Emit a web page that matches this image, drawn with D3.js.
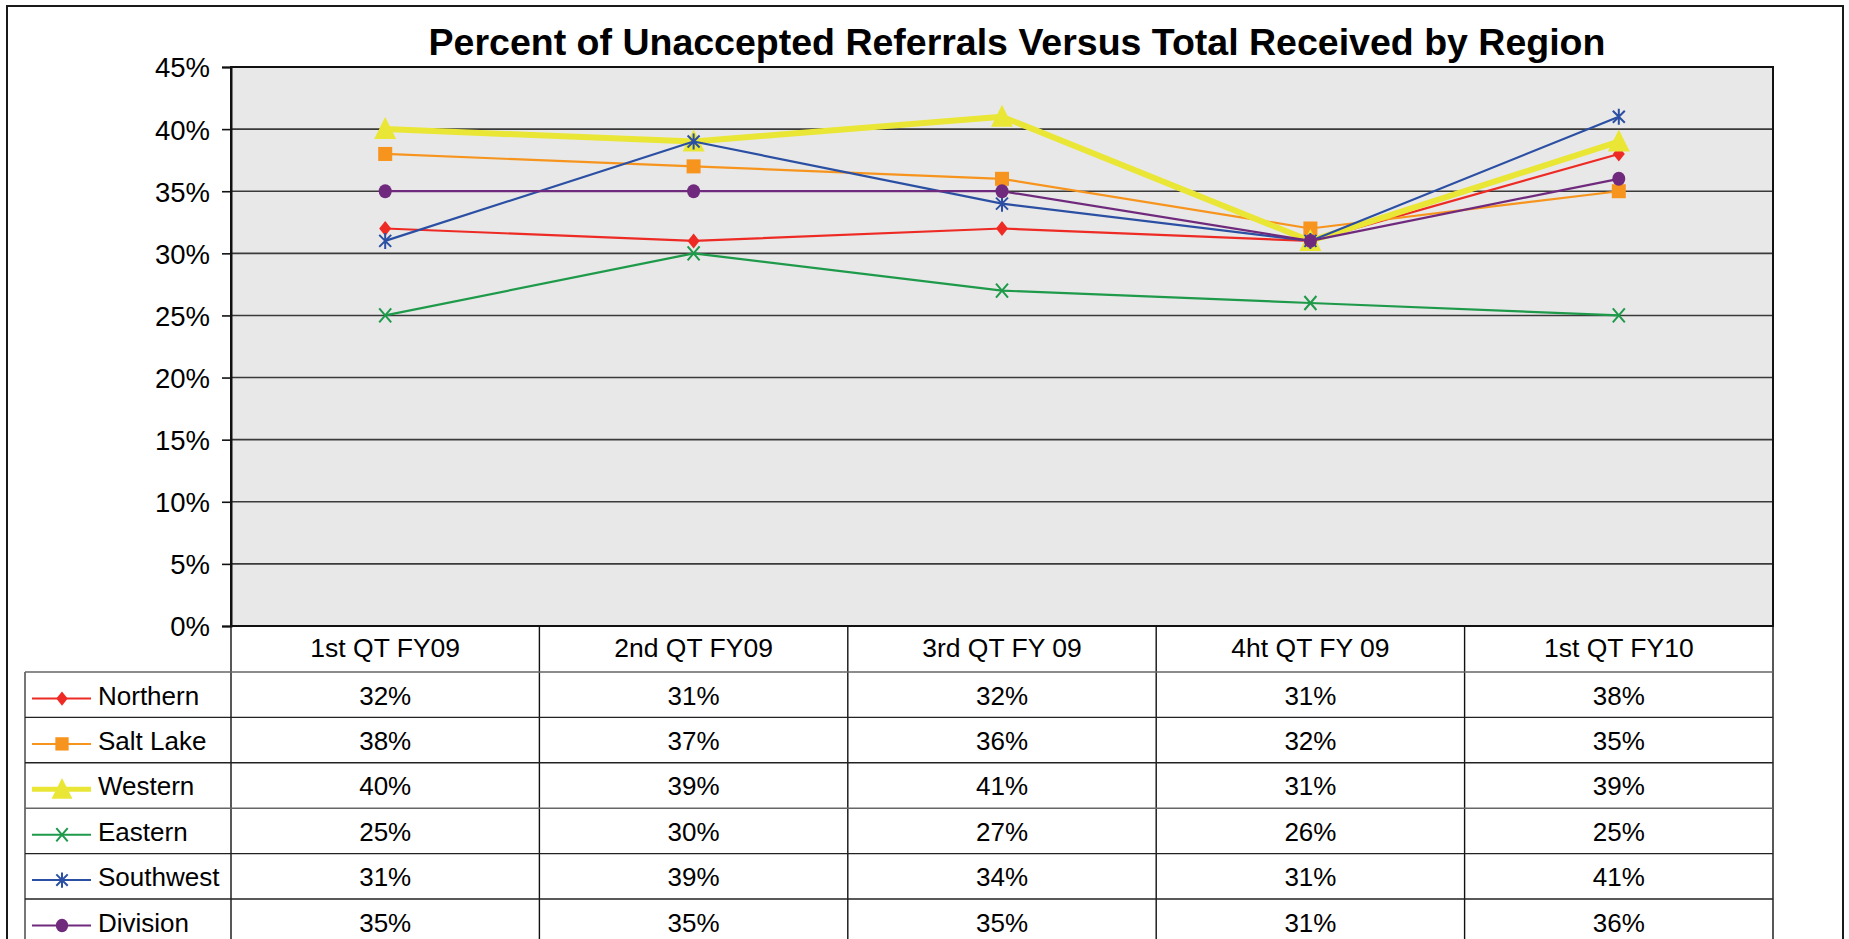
<!DOCTYPE html>
<html>
<head>
<meta charset="utf-8">
<script src="https://cdn.jsdelivr.net/npm/d3@7"></script>
<style>
  html, body { margin: 0; padding: 0; background: #fff; }
  svg { display: block; font-family: "Liberation Sans", Arial, sans-serif; }
</style>
</head>
<body>
<svg id="chart" width="1849" height="939"></svg>
<script>
const title = "Percent of Unaccepted Referrals Versus Total Received by Region";
const categories = ["1st QT FY09", "2nd QT FY09", "3rd QT FY 09", "4ht QT FY 09", "1st QT FY10"];
const seriesNames = ["Northern", "Salt Lake", "Western", "Eastern", "Southwest", "Division"];
const northern  = [32, 31, 32, 31, 38];
const saltLake  = [38, 37, 36, 32, 35];
const western   = [40, 39, 41, 31, 39];
const eastern   = [25, 30, 27, 26, 25];
const southwest = [31, 39, 34, 31, 41];
const division  = [35, 35, 35, 31, 36];
const yTicks = [0, 5, 10, 15, 20, 25, 30, 35, 40, 45];

const seriesValues = [northern, saltLake, western, eastern, southwest, division];
const colors = ["#ee2a24", "#f7941d", "#e9e636", "#1e9a4a", "#2b4fa3", "#702a7d"];
const widths = [2.2, 2.2, 6, 2.2, 2.2, 2.2];
const markers = ["diamond", "square", "triangle", "x", "asterisk", "circle"];

const svg = d3.select("#chart");

// layout
const plotL = 231, plotR = 1773, plotT = 67, plotB = 626;
const headerB = 672, rowH = 45.4;
const tableL = 25;

const x = d3.scaleBand().domain(categories).range([plotL, plotR]).padding(0);
const y = d3.scaleLinear().domain([0, 45]).range([plotB, plotT]);
const cx = c => x(c) + x.bandwidth() / 2;

// outer border
svg.append("rect").attr("x", 7).attr("y", 6).attr("width", 1836).attr("height", 960)
  .attr("fill", "none").attr("stroke", "#1a1a1a").attr("stroke-width", 2);

// title
svg.append("text").attr("x", 1017).attr("y", 55).attr("text-anchor", "middle")
  .attr("font-size", 37.5).attr("font-weight", "bold").attr("fill", "#000").text(title);

// plot background
svg.append("rect").attr("x", plotL).attr("y", plotT).attr("width", plotR - plotL).attr("height", plotB - plotT)
  .attr("fill", "#e8e8e8");

// gridlines
svg.append("g").selectAll("line").data(yTicks.filter(t => t > 0 && t < 45)).join("line")
  .attr("x1", plotL).attr("x2", plotR).attr("y1", d => y(d)).attr("y2", d => y(d))
  .attr("stroke", "#3a3a3a").attr("stroke-width", 1.6);

// plot border
svg.append("rect").attr("x", plotL).attr("y", plotT).attr("width", plotR - plotL).attr("height", plotB - plotT)
  .attr("fill", "none").attr("stroke", "#111").attr("stroke-width", 2);

// y axis
const yAxis = d3.axisLeft(y).tickValues(yTicks).tickFormat(d => d + "%").tickSize(9).tickPadding(12);
const ga = svg.append("g").attr("transform", `translate(${plotL},0)`).call(yAxis);
ga.select(".domain").attr("stroke", "#111").attr("stroke-width", 2);
ga.selectAll(".tick line").attr("stroke", "#111").attr("stroke-width", 1.6);
ga.selectAll(".tick text").attr("font-size", 27.5).attr("fill", "#000")
  .attr("font-family", "'Liberation Sans', Arial, sans-serif").attr("dy", "0.36em");

// marker drawer
function drawMarker(g, type, px, py, color, scale) {
  const s = scale || 1;
  if (type === "diamond") {
    g.append("path").attr("d", `M${px},${py - 7.5 * s}L${px + 6 * s},${py}L${px},${py + 7.5 * s}L${px - 6 * s},${py}Z`).attr("fill", color);
  } else if (type === "square") {
    g.append("rect").attr("x", px - 7 * s).attr("y", py - 7 * s).attr("width", 14 * s).attr("height", 14 * s).attr("fill", color);
  } else if (type === "triangle") {
    g.append("path").attr("d", `M${px},${py - 12 * s}L${px + 11 * s},${py + 10 * s}L${px - 11 * s},${py + 10 * s}Z`).attr("fill", color);
  } else if (type === "x") {
    g.append("path").attr("d", `M${px - 6 * s},${py - 7 * s}L${px + 6 * s},${py + 7 * s}M${px + 6 * s},${py - 7 * s}L${px - 6 * s},${py + 7 * s}`)
      .attr("stroke", color).attr("stroke-width", 2).attr("fill", "none");
  } else if (type === "asterisk") {
    g.append("path").attr("d", `M${px - 6 * s},${py - 6 * s}L${px + 6 * s},${py + 6 * s}M${px + 6 * s},${py - 6 * s}L${px - 6 * s},${py + 6 * s}M${px},${py - 8 * s}L${px},${py + 8 * s}`)
      .attr("stroke", color).attr("stroke-width", 2).attr("fill", "none");
  } else if (type === "circle") {
    g.append("ellipse").attr("cx", px).attr("cy", py).attr("rx", 6.5 * s).attr("ry", 7 * s).attr("fill", color);
  }
}

// series
const line = d3.line().x((d, i) => cx(categories[i])).y(d => y(d));
seriesValues.forEach((vals, si) => {
  const g = svg.append("g");
  g.append("path").datum(vals).attr("d", line).attr("fill", "none")
    .attr("stroke", colors[si]).attr("stroke-width", widths[si]).attr("stroke-linejoin", "round");
  vals.forEach((v, i) => drawMarker(g, markers[si], cx(categories[i]), y(v), colors[si]));
});

// data table
const tg = svg.append("g");
// category header labels
tg.selectAll("text.cat").data(categories).join("text").attr("class", "cat")
  .attr("x", d => cx(d)).attr("y", 657).attr("text-anchor", "middle")
  .attr("font-size", 26.5).attr("fill", "#000").text(d => d);

const tableB = 960;
// vertical dividers
const divs = categories.map(c => x(c)).concat([plotR]);
tg.selectAll("line.vd").data(divs).join("line").attr("class", "vd")
  .attr("x1", d => d).attr("x2", d => d).attr("y1", plotB).attr("y2", tableB)
  .attr("stroke", "#111").attr("stroke-width", 1.4);
// left border of legend column
tg.append("line").attr("x1", tableL).attr("x2", tableL).attr("y1", headerB).attr("y2", tableB)
  .attr("stroke", "#555").attr("stroke-width", 1.6);
// horizontal row lines
const rowLines = d3.range(seriesNames.length + 1).map(i => headerB + i * rowH);
tg.selectAll("line.hr").data(rowLines).join("line").attr("class", "hr")
  .attr("x1", (d, i) => i === 0 ? tableL : tableL).attr("x2", plotR).attr("y1", d => d).attr("y2", d => d)
  .attr("stroke", (d, i) => i % 3 === 0 ? "#666" : "#222").attr("stroke-width", 1.4);
// header top-right (plot bottom extension already) -- right border of table at plotR
seriesNames.forEach((name, si) => {
  const top = headerB + si * rowH;
  // legend key
  tg.append("line").attr("x1", 32).attr("x2", 91).attr("y1", top + 26.5).attr("y2", top + 26.5)
    .attr("stroke", colors[si]).attr("stroke-width", si === 2 ? 5 : 2);
  drawMarker(tg, markers[si], 62, top + 26.5, colors[si], 0.95);
  tg.append("text").attr("x", 98).attr("y", top + 32.5).attr("font-size", 26).attr("fill", "#000").text(name);
  // values
  seriesValues[si].forEach((v, i) => {
    tg.append("text").attr("x", cx(categories[i])).attr("y", top + 32.5).attr("text-anchor", "middle")
      .attr("font-size", 26).attr("fill", "#000").text(v + "%");
  });
});
</script>
</body>
</html>
